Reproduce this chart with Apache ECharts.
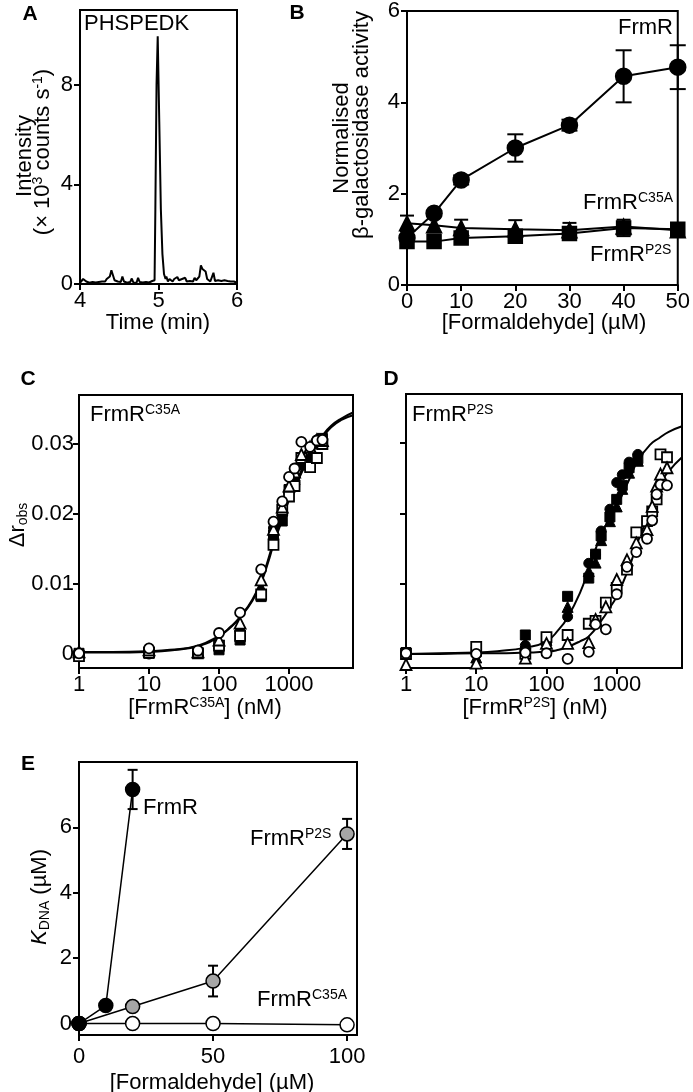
<!DOCTYPE html>
<html><head><meta charset="utf-8">
<script src="https://cdn.jsdelivr.net/npm/echarts@6/dist/echarts.min.js"></script>
<style>html,body{margin:0;padding:0;background:#fff}#c{width:693px;height:1092px}</style>
</head><body><div id="c"></div>
<script>
// ---------- Panel A: chromatogram ----------
const aTime = [4.00,4.02,4.04,4.06,4.08,4.10,4.12,4.14,4.16,4.18,4.20,4.22,4.24,4.26,4.28,4.30,4.32,4.34,4.36,4.38,4.40,4.42,4.44,4.46,4.48,4.50,4.52,4.54,4.56,4.58,4.60,4.62,4.64,4.66,4.68,4.70,4.72,4.74,4.76,4.78,4.80,4.82,4.84,4.86,4.88,4.90,4.92,4.94,4.95,4.96,4.975,4.99,5.01,5.03,5.05,5.07,5.09,5.10,5.12,5.14,5.16,5.18,5.20,5.22,5.24,5.26,5.28,5.30,5.32,5.34,5.36,5.38,5.40,5.42,5.44,5.46,5.48,5.50,5.52,5.54,5.56,5.58,5.60,5.62,5.64,5.66,5.68,5.70,5.72,5.74,5.76,5.78,5.80,5.82,5.84,5.86,5.88,5.90,5.92,5.94,5.96,5.98,6.00];
const aIntensity = [0.05,0.12,0.2,0.15,0.1,0.12,0.05,0.1,0.08,0.12,0.06,0.1,0.08,0.12,0.1,0.14,0.1,0.2,0.15,0.3,0.55,0.35,0.15,0.2,0.1,0.12,0.08,0.3,0.1,0.12,0.05,0.1,0.08,0.22,0.06,0.1,0.05,0.25,0.08,0.1,0.06,0.12,0.08,0.15,0.06,0.1,0.12,0.1,0.15,3.0,8.0,9.95,6.5,3.0,1.2,0.4,0.2,0.3,0.1,0.2,0.15,0.1,0.2,0.12,0.28,0.15,0.1,0.2,0.12,0.25,0.1,0.18,0.12,0.2,0.1,0.25,0.15,0.2,0.3,0.75,0.6,0.65,0.5,0.2,0.15,0.1,0.12,0.45,0.12,0.1,0.15,0.08,0.12,0.1,0.15,0.1,0.12,0.08,0.1,0.05,0.1,0.06,0.05];
const aYTicks = [0,4,8];
const aXTicks = [4,5,6];

// ---------- Panel B: beta-galactosidase ----------
const bConc = [0,5,10,20,30,40,50];
const bFrmR = [1.03,1.57,2.3,3.0,3.5,4.57,4.77];
const bFrmRErr = [0.05,0.05,0.1,0.3,0.12,0.57,0.48];
const bC35A = [1.35,1.31,1.25,1.22,1.2,1.28,1.2];
const bC35AErr = [0.17,0.16,0.18,0.2,0.16,0.1,0.05];
const bP2S = [0.95,0.95,1.03,1.07,1.13,1.25,1.22];
const bP2SErr = [0.08,0.06,0.08,0.06,0.06,0.18,0.08];

// ---------- Panel C: FrmR C35A anisotropy ----------
const cConc = [1,10,50,100,200,400,600,800,1000,1200,1500,2000,2500,3000];
const cOpenCircle   = [0.0001,0.0008,0.0005,0.003,0.0059,0.0121,0.0189,0.0218,0.0253,0.0265,0.0303,0.0296,0.0305,0.0306];
const cOpenSquare   = [-0.0003,0.0002,0.0001,0.0012,0.0026,0.0085,0.0156,0.0206,0.0225,0.024,0.028,0.0267,0.028,0.0300];
const cOpenTriangle = [0.0003,0.0006,0.0003,0.002,0.0044,0.0106,0.0178,0.021,0.024,0.026,0.0285,0.0296,0.0306,0.0305];
const cFillCircle   = [0.0,0.0,0.0004,0.001,0.003,0.0085,0.018,0.0199,0.0232,0.0245,0.0277,0.0277,0.0306,0.0303];
const cFillSquare   = [0.0001,0.0001,0.0002,0.0006,0.002,0.0082,0.017,0.019,0.0235,0.0245,0.027,0.0275,0.030,0.0308];
const cFillTriangle = [0.0002,0.0003,0.0005,0.0015,0.004,0.0095,0.0172,0.0205,0.0238,0.025,0.0275,0.0285,0.0303,0.0305];
const cFitX = [1,3,10,20,50,100,150,200,300,400,500,600,800,1000,1500,2000,3000,4000,5500,8200];
const cFit1 = [0.0002,0.0002,0.0003,0.0005,0.0011,0.0025,0.004,0.0053,0.0078,0.0105,0.0134,0.016,0.0195,0.0222,0.0262,0.0288,0.0312,0.0326,0.0336,0.0345];
const cFit2 = [0.0003,0.0003,0.0004,0.0006,0.0012,0.0026,0.0039,0.0052,0.0076,0.0102,0.013,0.0156,0.0192,0.022,0.0258,0.0284,0.0309,0.0324,0.0334,0.0341];

// ---------- Panel D: FrmR P2S anisotropy ----------
const dConcFilled = [1,10,50,100,200,400,500,600,800,1000,1200,1500,2000];
const dFillCircle   = [0.0001,0.0,0.0012,0.0018,0.0053,0.0129,0.0142,0.0175,0.0206,0.0244,0.0255,0.0273,0.0284];
const dFillSquare   = [0.0002,0.0003,0.0027,0.0022,0.0082,0.0108,0.0142,0.0168,0.0195,0.022,0.024,0.0265,0.0278];
const dFillTriangle = [0.0,-0.0005,0.0015,0.002,0.0067,0.0118,0.013,0.0162,0.0189,0.021,0.0235,0.0258,0.0275];
const dConcOpen = [1,10,50,100,200,400,500,700,1000,1400,1900,2700,3200,3700,4200,5200];
const dOpenCircle   = [0.0001,0.0,0.0002,0.0001,-0.0007,0.0003,0.0042,0.0035,0.0085,0.0124,0.0145,0.0164,0.019,0.0227,0.0241,0.024];
const dOpenSquare   = [0.0,0.001,0.0,0.0024,0.0027,0.0043,0.0047,0.0073,0.0094,0.012,0.0173,0.0189,0.0203,0.022,0.0284,0.028];
const dOpenTriangle = [-0.0015,-0.0013,-0.0006,0.0015,0.0015,0.0016,0.0049,0.0067,0.0106,0.0134,0.0158,0.0177,0.021,0.0239,0.0256,0.0265];
const dFitX = [1,3,10,20,50,100,150,200,300,400,600,800,1000,1500,2000,3000,4000,5500,8500];
const dFitFilled = [0.0,0.0001,0.0002,0.0004,0.0009,0.0018,0.0035,0.0052,0.0087,0.0121,0.017,0.0193,0.021,0.0248,0.0275,0.0298,0.0307,0.0316,0.0324];
const dFitOpen   = [0.0,0.0,0.0001,0.0001,0.0002,0.0003,0.0006,0.001,0.0018,0.0025,0.0047,0.0066,0.0082,0.0123,0.016,0.0205,0.0239,0.026,0.028];
const cdYTicks = [0,0.01,0.02,0.03];
const cdXTicks = [1,10,100,1000];

// ---------- Panel E: K_DNA ----------
const eFrmRX = [0,10,20];
const eFrmR = [0,0.55,7.16];
const eFrmRErr = [0,0,0.6];
const eP2SX = [0,20,50,100];
const eP2S = [0,0.52,1.3,5.8];
const eP2SErr = [0,0,0.47,0.46];
const eC35AX = [0,20,50,100];
const eC35A = [0,0,0,-0.04];
const eYTicks = [0,2,4,6];
const eXTicks = [0,50,100];

// ---------- build ----------
const FF = '"Liberation Sans", Arial, Helvetica, sans-serif';
const FS = 22;
const pairs = (xs, ys) => xs.map((x, i) => [x, ys[i]]);
const triples = (xs, ys, es) => xs.map((x, i) => [x, ys[i], es[i]]);

function axisBase(extra) {
  return Object.assign({
    axisLine: {show: true, onZero: false, lineStyle: {color: '#000', width: 2}},
    axisTick: {show: true, inside: false, length: 6, lineStyle: {color: '#000', width: 2}},
    axisLabel: {color: '#000', fontSize: FS, fontFamily: FF},
    splitLine: {show: false},
    minorTick: {show: false}
  }, extra);
}
function customTicks(values, labelExtra, showLabel) {
  return {
    axisTick: {show: true, inside: false, length: 6, lineStyle: {color: '#000', width: 2}, customValues: values},
    axisLabel: Object.assign({show: showLabel !== false, color: '#000', fontSize: FS, fontFamily: FF, customValues: values}, labelExtra || {})
  };
}

const gridStyle = {show: true, borderColor: '#000', borderWidth: 2, backgroundColor: '#fff', containLabel: false};
const grids = [
  Object.assign({left: 80, top: 10, width: 157, height: 274}, gridStyle),
  Object.assign({left: 407, top: 11, width: 275, height: 274}, gridStyle),
  Object.assign({left: 79, top: 395, width: 274, height: 273}, gridStyle),
  Object.assign({left: 406, top: 394, width: 276, height: 274}, gridStyle),
  Object.assign({left: 79, top: 762, width: 278, height: 273}, gridStyle)
];

const logFmt = v => String(Math.round(v));
const xAxes = [
  axisBase(Object.assign({gridIndex: 0, type: 'value', min: 4, max: 6}, customTicks(aXTicks, {margin: 6}))),
  axisBase({gridIndex: 1, type: 'value', min: 0, max: 50, interval: 10, axisLabel: {color: '#000', fontSize: FS, fontFamily: FF, margin: 6}}),
  axisBase(Object.assign({gridIndex: 2, type: 'log', logBase: 10, min: 1, max: 8200}, customTicks(cdXTicks, {margin: 6, formatter: logFmt}))),
  axisBase(Object.assign({gridIndex: 3, type: 'log', logBase: 10, min: 1, max: 8500}, customTicks(cdXTicks, {margin: 6, formatter: logFmt}))),
  axisBase(Object.assign({gridIndex: 4, type: 'value', min: 0, max: 103.7}, customTicks(eXTicks, {margin: 11})))
];
const yFmt = v => (Math.abs(v) < 1e-9 ? '0' : v.toFixed(2));
const yAxes = [
  axisBase(Object.assign({gridIndex: 0, type: 'value', min: 0, max: 11}, customTicks(aYTicks, {margin: 7}))),
  axisBase({gridIndex: 1, type: 'value', min: 0, max: 6, interval: 2, axisLabel: {color: '#000', fontSize: FS, fontFamily: FF, margin: 7}}),
  axisBase(Object.assign({gridIndex: 2, type: 'value', min: -0.002, max: 0.037}, customTicks(cdYTicks, {margin: 5, formatter: yFmt}))),
  axisBase(Object.assign({gridIndex: 3, type: 'value', min: -0.002, max: 0.037}, customTicks(cdYTicks, {}, false))),
  axisBase(Object.assign({gridIndex: 4, type: 'value', min: -0.35, max: 8}, customTicks(eYTicks, {margin: 7})))
];

function errRender(cap) {
  return function (params, api) {
    const x = api.value(0), y = api.value(1), e = api.value(2);
    if (!e) return null;
    const p1 = api.coord([x, y + e]), p2 = api.coord([x, y - e]);
    const st = {stroke: '#000', lineWidth: 2};
    return {type: 'group', children: [
      {type: 'line', shape: {x1: p1[0], y1: p1[1], x2: p2[0], y2: p2[1]}, style: st},
      {type: 'line', shape: {x1: p1[0] - cap, y1: p1[1], x2: p1[0] + cap, y2: p1[1]}, style: st},
      {type: 'line', shape: {x1: p2[0] - cap, y1: p2[1], x2: p2[0] + cap, y2: p2[1]}, style: st}
    ]};
  };
}
function errSeries(idx, data, cap) {
  return {type: 'custom', xAxisIndex: idx, yAxisIndex: idx, coordinateSystem: 'cartesian2d',
    renderItem: errRender(cap), data: data, encode: {x: 0, y: 1}, z: 1, clip: false, silent: true};
}
function lineSeries(idx, data, symbol, size, fill, extra) {
  return Object.assign({type: 'line', xAxisIndex: idx, yAxisIndex: idx, data: data, symbol: symbol, symbolSize: size,
    showSymbol: true, clip: false, z: 3,
    lineStyle: {color: '#000', width: 2}, itemStyle: {color: fill, borderColor: '#000', borderWidth: 1.5, opacity: 1}}, extra || {});
}
function scatterSeries(idx, data, symbol, size, open) {
  return {type: 'scatter', xAxisIndex: idx, yAxisIndex: idx, data: data, symbol: symbol, symbolSize: size, clip: false, z: 4,
    itemStyle: open ? {color: '#fff', borderColor: '#000', borderWidth: 1.8, opacity: 1} : {color: '#000', borderColor: '#000', borderWidth: 1, opacity: 1}};
}
function fitSeries(idx, data) {
  return {type: 'line', xAxisIndex: idx, yAxisIndex: idx, data: data, symbol: 'none', smooth: true, clip: true, z: 2,
    lineStyle: {color: '#000', width: 2}};
}

const series = [
  // A
  {type: 'line', xAxisIndex: 0, yAxisIndex: 0, data: pairs(aTime, aIntensity), symbol: 'none', lineStyle: {color: '#000', width: 2}, clip: true},
  // B
  errSeries(1, triples(bConc, bFrmR, bFrmRErr), 8),
  errSeries(1, triples(bConc, bC35A, bC35AErr), 7),
  errSeries(1, triples(bConc, bP2S, bP2SErr), 7),
  lineSeries(1, pairs(bConc, bP2S), 'rect', 14, '#000'),
  lineSeries(1, pairs(bConc, bC35A), 'triangle', 15, '#000'),
  lineSeries(1, pairs(bConc, bFrmR), 'circle', 16, '#000'),
  // C
  fitSeries(2, pairs(cFitX, cFit1)),
  fitSeries(2, pairs(cFitX, cFit2)),
  scatterSeries(2, pairs(cConc, cFillCircle), 'circle', 10, false),
  scatterSeries(2, pairs(cConc, cFillSquare), 'rect', 10, false),
  scatterSeries(2, pairs(cConc, cFillTriangle), 'triangle', 11, false),
  scatterSeries(2, pairs(cConc, cOpenSquare), 'rect', 10, true),
  scatterSeries(2, pairs(cConc, cOpenTriangle), 'triangle', 11, true),
  scatterSeries(2, pairs(cConc, cOpenCircle), 'circle', 10, true),
  // D
  fitSeries(3, pairs(dFitX, dFitFilled)),
  fitSeries(3, pairs(dFitX, dFitOpen)),
  scatterSeries(3, pairs(dConcFilled, dFillCircle), 'circle', 10, false),
  scatterSeries(3, pairs(dConcFilled, dFillSquare), 'rect', 10, false),
  scatterSeries(3, pairs(dConcFilled, dFillTriangle), 'triangle', 11, false),
  scatterSeries(3, pairs(dConcOpen, dOpenSquare), 'rect', 10, true),
  scatterSeries(3, pairs(dConcOpen, dOpenTriangle), 'triangle', 11, true),
  scatterSeries(3, pairs(dConcOpen, dOpenCircle), 'circle', 10, true),
  // E
  errSeries(4, triples(eFrmRX, eFrmR, eFrmRErr), 5),
  errSeries(4, triples(eP2SX, eP2S, eP2SErr), 5),
  lineSeries(4, pairs(eC35AX, eC35A), 'circle', 14, '#fff', {lineStyle: {color: '#000', width: 1.5}}),
  lineSeries(4, pairs(eP2SX, eP2S), 'circle', 14, '#a6a6a6', {lineStyle: {color: '#000', width: 1.5}}),
  lineSeries(4, pairs(eFrmRX, eFrmR), 'circle', 14, '#000', {lineStyle: {color: '#000', width: 1.5}})
];

const rich = {
  s: {fontSize: 14, fontFamily: FF, fill: '#000', lineHeight: 14, verticalAlign: 'top'},
  sub: {fontSize: 14, fontFamily: FF, fill: '#000', lineHeight: 12, verticalAlign: 'bottom'},
  i: {fontSize: FS, fontFamily: FF, fontStyle: 'italic', fill: '#000', lineHeight: 24}
};
function txt(x, y, text, align, rot, extra) {
  return {type: 'text', x: x, y: y, rotation: rot ? Math.PI / 2 : 0, z: 100,
    style: Object.assign({text: text, fill: '#000', fontSize: FS, fontFamily: FF, lineHeight: 24,
      align: align || 'center', verticalAlign: 'middle', rich: rich}, extra || {})};
}
function letter(x, y, t) {
  return {type: 'text', x: x, y: y, z: 100, style: {text: t, fill: '#000', fontSize: 21, fontWeight: 'bold', fontFamily: FF, align: 'center', verticalAlign: 'middle'}};
}

const graphics = [
  letter(30, 14, 'A'), letter(297, 13, 'B'), letter(28, 379, 'C'), letter(391, 379, 'D'), letter(28, 764, 'E'),
  // A
  txt(84, 24, 'PHSPEDK', 'left'),
  txt(158, 323, 'Time (min)'),
  txt(25, 156, 'Intensity', 'center', true),
  txt(43, 152, '(× 10{s|3} counts s{s|-1})', 'center', true),
  // B
  txt(618, 28, 'FrmR', 'left'),
  txt(583, 203, 'FrmR{s|C35A}', 'left'),
  txt(590, 255, 'FrmR{s|P2S}', 'left'),
  txt(544, 323, '[Formaldehyde] (µM)'),
  txt(342, 138, 'Normalised', 'center', true),
  txt(362, 125, 'β-galactosidase activity', 'center', true),
  // C
  txt(90, 415, 'FrmR{s|C35A}', 'left'),
  txt(205, 708, '[FrmR{s|C35A}] (nM)'),
  txt(18, 525, 'Δr{sub|obs}', 'center', true),
  // D
  txt(412, 415, 'FrmR{s|P2S}', 'left'),
  txt(535, 708, '[FrmR{s|P2S}] (nM)'),
  // E
  txt(143, 808, 'FrmR', 'left'),
  txt(250, 839, 'FrmR{s|P2S}', 'left'),
  txt(257, 1000, 'FrmR{s|C35A}', 'left'),
  txt(212, 1083, '[Formaldehyde] (µM)'),
  txt(40, 897, '{i|K}{sub|DNA} (µM)', 'center', true)
];

const chart = echarts.init(document.getElementById('c'), null, {renderer: 'canvas'});
chart.setOption({
  animation: false,
  backgroundColor: '#fff',
  grid: grids,
  xAxis: xAxes,
  yAxis: yAxes,
  series: series,
  graphic: graphics
});
</script>
</body></html>
